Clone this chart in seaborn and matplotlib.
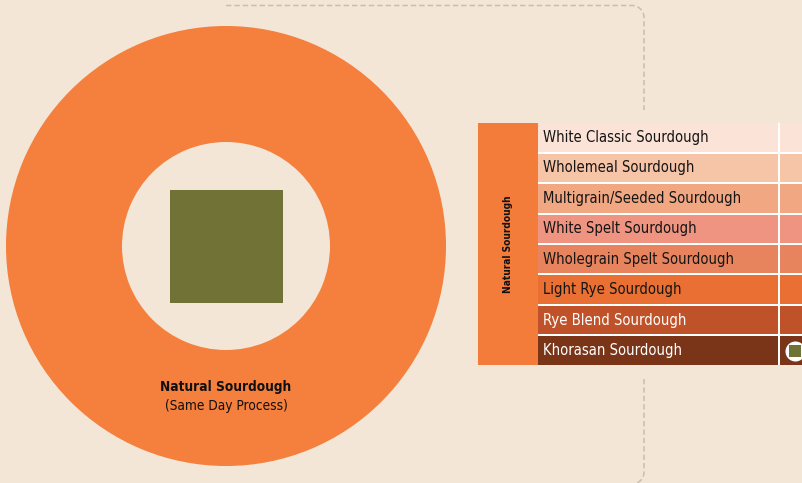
import numpy as np
import pandas as pd
import matplotlib
matplotlib.use("Agg")
import matplotlib.pyplot as plt
from matplotlib.colors import ListedColormap
import seaborn as sns

# Data
bread_types = [
    "White Classic Sourdough",
    "Wholemeal Sourdough",
    "Multigrain/Seeded Sourdough",
    "White Spelt Sourdough",
    "Wholegrain Spelt Sourdough",
    "Light Rye Sourdough",
    "Rye Blend Sourdough",
    "Khorasan Sourdough",
]
row_colors = ["#fbe3d7", "#f6c4a7", "#f0a782", "#ef9480", "#e8845d",
              "#e96f32", "#c0522a", "#7a3519"]
text_colors = ["#151515"] * 6 + ["#ffffff", "#ffffff"]
marked_rows = ["Khorasan Sourdough"]
group_label = "Natural Sourdough"
donut_title = "Natural Sourdough"
donut_subtitle = "(Same Day Process)"
donut_share = [1.0]

# Layout (pixels)
W, H = 803, 483
BG = "#f3e6d6"
ORANGE = "#f57f3c"
OLIVE = "#717236"
center = (226, 246)
r_outer, r_inner = 220, 104
table_top, table_bottom = 123, 365
table_left, col_w = 538, 242

sns.set_theme(style="white")
plt.rcParams["font.family"] = ["DejaVu Sans"]
plt.rcParams["font.stretch"] = "condensed"

fig = plt.figure(figsize=(W / 100, H / 100), dpi=100, facecolor=BG)
ax = fig.add_axes([0, 0, 1, 1])
ax.set_facecolor(BG)

# dashed connector
t = np.linspace(0, np.pi / 2, 20)
top_x = np.concatenate([[226, 632], 632 + 12 * np.sin(t), [644]])
top_y = np.concatenate([[5.5, 5.5], 17.5 - 12 * np.cos(t), [110]])
bot_x = np.concatenate([[644], 632 + 12 * np.cos(t), [560]])
bot_y = np.concatenate([[379], 472 + 12 * np.sin(t), [484]])
for xs, ys in [(top_x, top_y), (bot_x, bot_y)]:
    ax.plot(xs, ys, color="#c9bdab", lw=1.1, linestyle=(0, (3.5, 2)), zorder=1)

# donut
ax.pie(donut_share, colors=[ORANGE], radius=r_outer, center=center,
       startangle=90, wedgeprops=dict(width=r_outer - r_inner, linewidth=0))
ax.scatter([center[0]], [center[1]], marker="s", s=(113 * 0.72) ** 2,
           color=OLIVE, linewidths=0, zorder=3)
ax.text(center[0], 387, donut_title, ha="center", va="center",
        fontsize=9.8, fontweight="bold", color="#111111")
ax.text(center[0], 406, donut_subtitle, ha="center", va="center",
        fontsize=9.8, color="#111111")

# group column
ax.bar(508, table_bottom - table_top, bottom=table_top, width=60,
       color="#f47c3b", linewidth=0)
ax.text(508, (table_top + table_bottom) / 2, group_label, rotation=90,
        ha="center", va="center", fontsize=7.3, fontweight="bold", color="#111111")

ax.set_xlim(0, W)
ax.set_ylim(H, 0)
ax.set_aspect("auto")
ax.axis("off")

# table rows as heatmap
n = len(bread_types)
grid = pd.DataFrame(np.repeat(np.arange(n)[:, None], 2, axis=1), index=bread_types)
tax = fig.add_axes([table_left / W, (H - table_bottom) / H,
                    2 * col_w / W, (table_bottom - table_top) / H])
sns.heatmap(grid, ax=tax, cmap=ListedColormap(row_colors), vmin=-0.5, vmax=n - 0.5,
            cbar=False, linewidths=1.4, linecolor="white",
            xticklabels=False, yticklabels=False)
tax.set_xlim(0.005, 2)
tax.set_ylim(n - 0.03, 0.03)
for i, (name, tc) in enumerate(zip(bread_types, text_colors)):
    tax.text(0.027, i + 0.5, name, ha="left", va="center", fontsize=10.6, color=tc)
    if name in marked_rows:
        tax.scatter([1 + 16 / col_w], [i + 0.5], marker="o", s=(20 * 0.72) ** 2,
                    color="white", linewidths=0, zorder=4)
        tax.scatter([1 + 16 / col_w], [i + 0.5], marker="s", s=(12 * 0.72) ** 2,
                    color=OLIVE, linewidths=0, zorder=5)

fig.savefig("out.png", dpi=100, facecolor=BG)
